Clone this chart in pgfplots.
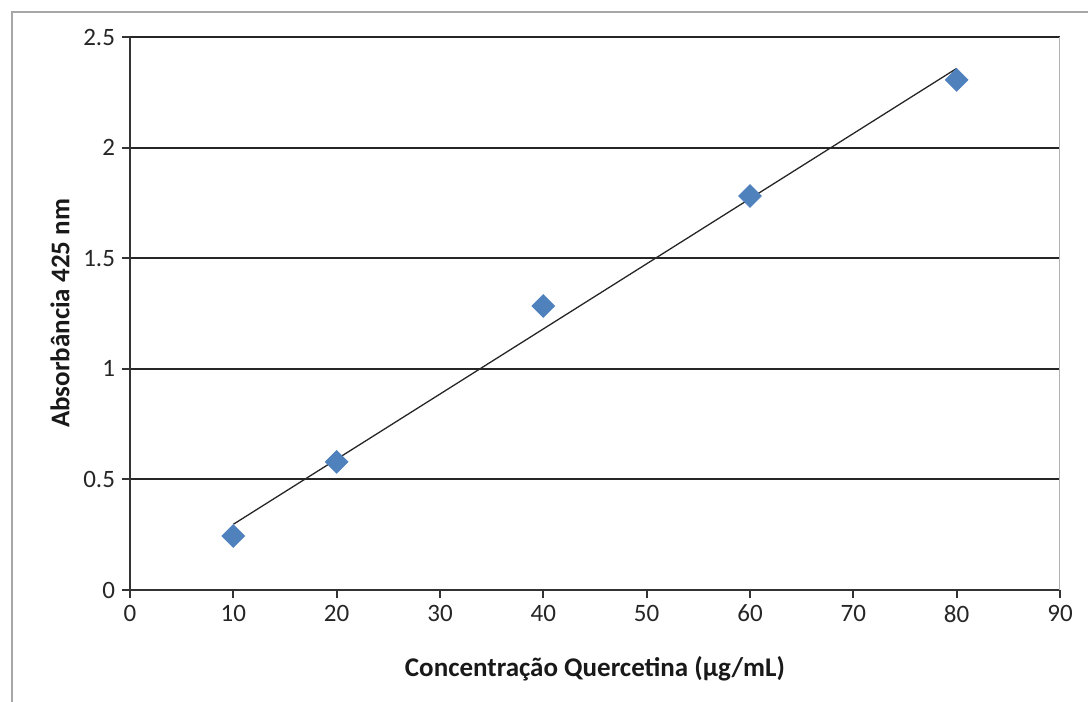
\documentclass[border=0pt]{standalone}
\usepackage{fontspec}
\setmainfont{Carlito}
\usepackage{pgfplots}
\pgfplotsset{compat=1.18}
\definecolor{excelblue}{HTML}{4F81BD}
\begin{document}
\begin{tikzpicture}
% outer chart frame (1px = 0.5pt)
\path[use as bounding box] (-65pt,-56pt) rectangle (479pt,295pt);
\draw[black!35, line width=0.9pt] (-59pt,-56pt) -- (-59pt,289pt) -- (479pt,289pt);
\begin{axis}[
    at={(0pt,0pt)}, anchor=south west,
    scale only axis, width=465pt, height=276.5pt,
    xmin=0, xmax=90, ymin=0, ymax=2.5,
    xtick={0,10,...,90}, ytick={0,0.5,1,1.5,2,2.5},
    axis x line*=bottom, axis y line*=left,
    tick align=outside, major tick length=4pt,
    ymajorgrids, grid style={black!85, line width=0.95pt},
    axis line style={black!80, line width=0.95pt},
    tick style={black!80, line width=0.95pt},
    /pgf/number format/assume math mode=true,
    ticklabel style={font=\fontsize{12.5}{14}\selectfont, text=black!85},
    label style={font=\fontsize{13.5}{15}\selectfont\bfseries, text=black!90},
    xlabel={Concentração Quercetina (µg/mL)},
    ylabel={Absorbância 425 nm},
    xlabel style={at={(axis description cs:0.5,-0.143)}, anchor=center},
    ylabel style={at={(axis description cs:-0.0753,0.5)}, anchor=center},
]
\draw[black!30, line width=0.9pt] (rel axis cs:1,0) -- (rel axis cs:1,1);
% linear trend line
\addplot[black!85, line width=0.65pt] coordinates {(10,0.297) (80,2.358)};
% measured points
\addplot[only marks, mark=square*, mark size=4pt,
    mark options={rotate=45, fill=excelblue, draw=excelblue}]
    coordinates {(10,0.244) (20,0.579) (40,1.284) (60,1.781) (80,2.306)};
\end{axis}
\end{tikzpicture}
\end{document}
